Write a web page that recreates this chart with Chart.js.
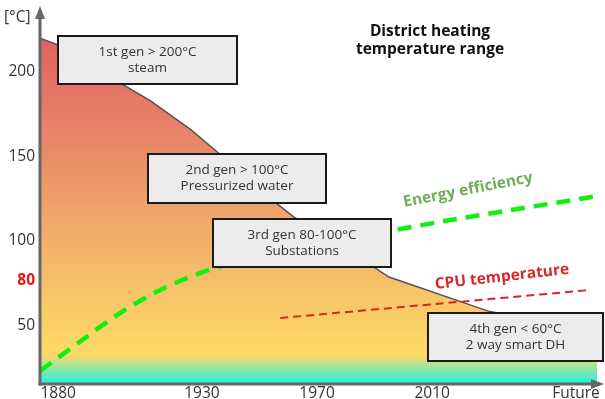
<!DOCTYPE html>
<html>
<head>
<meta charset="utf-8">
<script src="https://cdn.jsdelivr.net/npm/chart.js@4"></script>
<style>
html,body{margin:0;padding:0;background:#fff;}
#wrap{width:605px;height:399px;position:relative;}
</style>
</head>
<body>
<div id="wrap"><canvas id="c" width="605" height="399"></canvas></div>
<script>
// ---- data ----
const tempYears  = [1873.7, 1880, 1903, 1912, 1926, 1935, 1956, 1962, 1990, 1995, 2030, 2067.3];
const tempValues = [220, 216, 192, 183, 166, 153, 122, 114, 84, 78.5, 58, 47];
const effYears   = [1873.7, 1886, 1901.5, 1915.5, 1934.6, 1998.9, 2067.3];
const effValues  = [22.8, 38.2, 57.1, 70.8, 83.8, 106.9, 126.5];
const cpuYears   = [1957.2, 2064.9];
const cpuValues  = [54.2, 70.8];
const yTickValues = [200, 150, 100, 50];
const yMarkValue = 80;
const xTickValues = [1880, 1930, 1970, 2010, 2060];
const xTickLabels = ['1880', '1930', '1970', '2010', 'Future'];
const genBoxes = [
  ['1st gen > 200°C', 'steam'],
  ['2nd gen > 100°C', 'Pressurized water'],
  ['3rd gen 80-100°C', 'Substations'],
  ['4th gen < 60°C', '2 way smart DH']
];
const titleLines = ['District heating', 'temperature range'];

const toPts = (xs, ys) => xs.map((x, i) => ({x, y: ys[i]}));

// box layout (pixels): left, top, width, height
const boxLayout = [
  [58, 36, 179, 48],
  [148, 154, 178, 49],
  [213, 219, 178, 48],
  [428, 313, 175, 48]
];

function areaGradient(ctx) {
  const chart = ctx.chart;
  const ca = chart.chartArea;
  if (!ca) return '#f0a868';
  const g = chart.ctx.createLinearGradient(0, ca.top, 0, ca.bottom);
  const h = ca.bottom - ca.top;
  const st = (py) => Math.min(1, Math.max(0, (py - ca.top) / h));
  g.addColorStop(st(38), '#df6262');
  g.addColorStop(st(150), '#ea8a69');
  g.addColorStop(st(250), '#f3b46a');
  g.addColorStop(st(345), '#fdd766');
  g.addColorStop(st(355), '#fdd866');
  g.addColorStop(st(369), '#8ee6a8');
  g.addColorStop(st(384), '#1ef2e4');
  return g;
}

const decor = {
  id: 'decor',
  afterDatasetsDraw(chart) {
    const c = chart.ctx;
    const xs = chart.scales.x, ys = chart.scales.y;
    const ca = chart.chartArea;
    const x0 = ca.left, y0 = ca.bottom;
    c.save();
    // axes
    c.strokeStyle = '#666'; c.fillStyle = '#666'; c.lineWidth = 3;
    c.beginPath(); c.moveTo(x0, y0 + 1.5); c.lineTo(x0, 16); c.stroke();
    c.beginPath(); c.moveTo(x0, 6); c.lineTo(x0 - 5, 19); c.lineTo(x0 + 5, 19); c.closePath(); c.fill();
    c.beginPath(); c.moveTo(x0 - 1.5, y0); c.lineTo(594, y0); c.stroke();
    c.beginPath(); c.moveTo(604, y0); c.lineTo(591, y0 - 5); c.lineTo(591, y0 + 5); c.closePath(); c.fill();

    // y ticks
    c.font = '15.5px "Open Sans", sans-serif';
    c.fillStyle = '#333'; c.textAlign = 'right'; c.textBaseline = 'middle';
    yTickValues.forEach(v => c.fillText(String(v), 35, ys.getPixelForValue(v)));
    c.font = 'bold 15.5px "Open Sans", sans-serif';
    c.fillStyle = '#ee1111';
    c.fillText(String(yMarkValue), 35, ys.getPixelForValue(yMarkValue) + 6);
    // unit
    c.font = '15.5px "Open Sans", sans-serif';
    c.fillStyle = '#333'; c.textAlign = 'left';
    c.fillText('[°C]', 4, 18);

    // x ticks
    c.textAlign = 'center'; c.textBaseline = 'middle';
    xTickValues.forEach((v, i) => c.fillText(xTickLabels[i], xs.getPixelForValue(v), 394));

    // boxes
    genBoxes.forEach((lines, i) => {
      const [l, t, w, h] = boxLayout[i];
      c.fillStyle = '#ececec';
      c.fillRect(l, t, w, h);
      c.strokeStyle = '#1a1a1a'; c.lineWidth = 2;
      c.strokeRect(l, t, w, h);
      c.fillStyle = '#333';
      c.font = '13.5px "Open Sans", sans-serif';
      c.textAlign = 'center'; c.textBaseline = 'middle';
      c.fillText(lines[0], l + w / 2, t + h / 2 - 8);
      c.fillText(lines[1], l + w / 2, t + h / 2 + 8);
    });

    // title
    c.fillStyle = '#111';
    c.font = 'bold 15.5px "Open Sans", sans-serif';
    c.fillText(titleLines[0], 430, 32);
    c.fillText(titleLines[1], 430, 50);

    // line labels
    c.save();
    c.translate(468, 190); c.rotate(-11 * Math.PI / 180);
    c.fillStyle = '#6cae58'; c.font = 'bold 15.5px "Open Sans", sans-serif';
    c.fillText('Energy efficiency', 0, 0);
    c.restore();
    c.save();
    c.translate(502, 277); c.rotate(-6.5 * Math.PI / 180);
    c.fillStyle = '#d42a2a'; c.font = 'bold 15.5px "Open Sans", sans-serif';
    c.fillText('CPU temperature', 0, 0);
    c.restore();

    c.restore();
  }
};

new Chart(document.getElementById('c'), {
  type: 'line',
  data: {
    datasets: [
      {
        data: toPts(tempYears, tempValues),
        fill: 'start',
        backgroundColor: areaGradient,
        borderColor: '#555',
        borderWidth: 1.5,
        pointRadius: 0,
        tension: 0,
        order: 3
      },
      {
        data: toPts(effYears, effValues),
        fill: false,
        borderColor: '#11ee11',
        borderWidth: 4.5,
        borderDash: [14, 9],
        pointRadius: 0,
        cubicInterpolationMode: 'monotone',
        order: 2
      },
      {
        data: toPts(cpuYears, cpuValues),
        fill: false,
        borderColor: '#dd2222',
        borderWidth: 2,
        borderDash: [8, 5],
        pointRadius: 0,
        order: 1
      }
    ]
  },
  options: {
    responsive: false,
    animation: false,
    layout: { padding: { left: 40, right: 8, top: 8, bottom: 15 } },
    plugins: { legend: { display: false }, tooltip: { enabled: false } },
    scales: {
      x: { type: 'linear', min: 1873.7, max: 2067.3, display: false },
      y: { type: 'linear', min: 15.1, max: 237.9, display: false }
    }
  },
  plugins: [decor]
});
</script>
</body>
</html>
